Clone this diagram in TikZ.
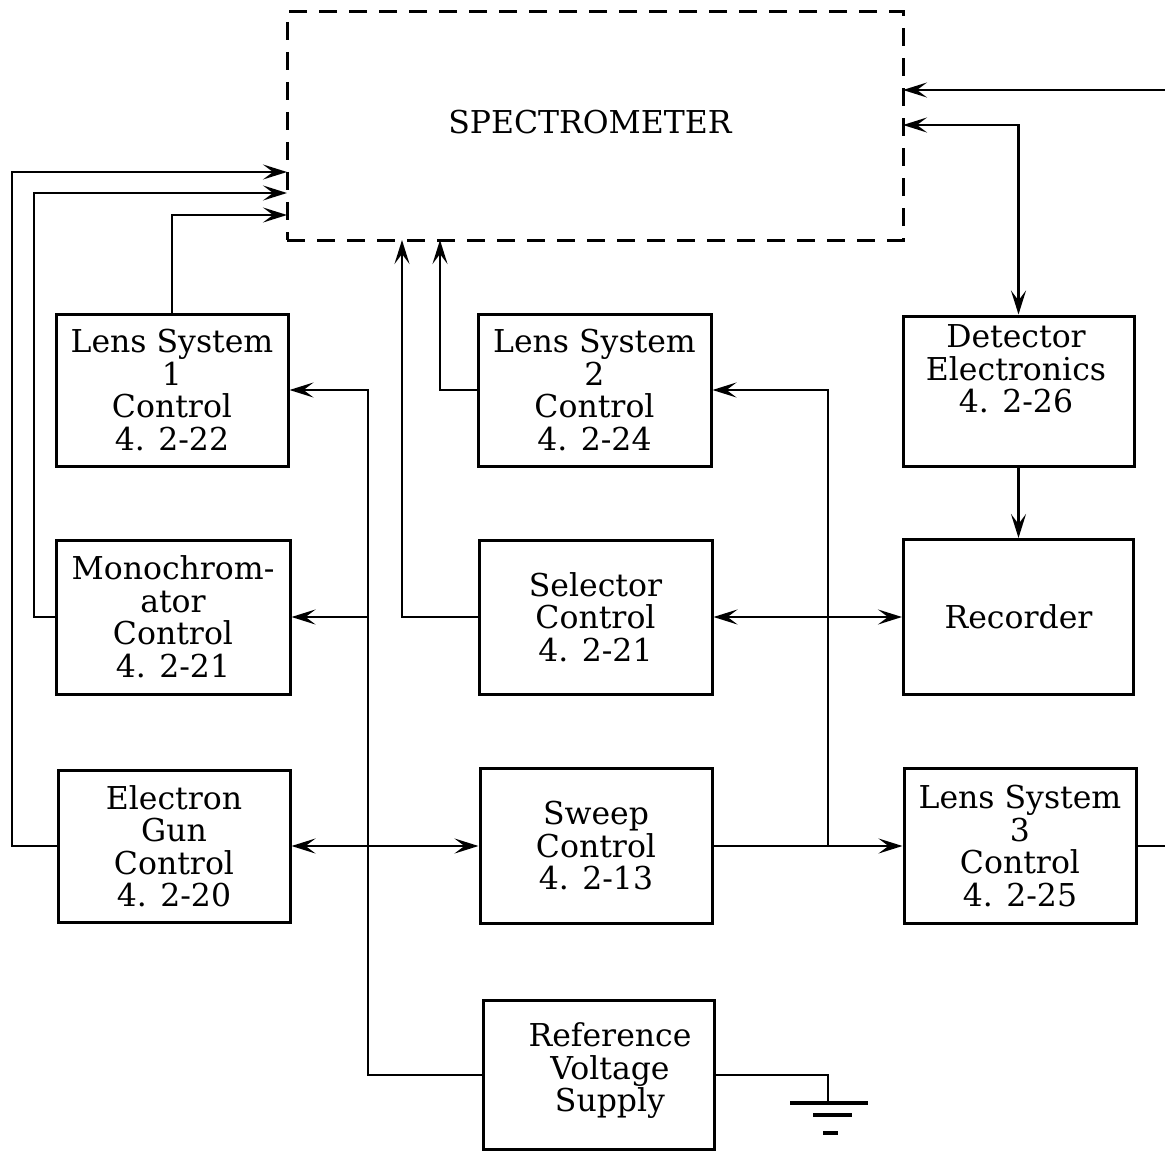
\documentclass[tikz,border=0pt]{standalone}
\usepackage{fontspec}
\setmainfont{DejaVu Serif}
\usetikzlibrary{arrows.meta}
\begin{document}
\begin{tikzpicture}[x=1pt,y=-1pt,
  every node/.style={font=\fontsize{31.5}{32.5}\selectfont},
  box/.style={draw,line width=3pt,inner sep=0pt,align=center},
  txt/.style={align=center,inner sep=0pt},
  conn/.style={line width=2.8pt},
  >={Stealth[length=24pt,width=15pt,inset=10pt]}]
\useasboundingbox (0,0) rectangle (1165,1153);
% spectrometer
\node[draw,dash pattern=on 18pt off 12pt,line width=3pt,minimum width=616pt,minimum height=228pt,inner sep=0pt] (spec) at (595,126) {};
\node[txt] (spect) at (590,122) {SPECTROMETER};
% boxes
\node[box,minimum width=232pt,minimum height=152pt] (ls1) at (172,390) {Lens System\\1\\Control\\4. 2-22};
\node[box,minimum width=233pt,minimum height=152pt] (ls2) at (594.5,390) {Lens System\\2\\Control\\4. 2-24};
\node[box,minimum width=231pt,minimum height=150pt] (det) at (1018.5,391) {};
\node[txt] (dett) at (1016,369) {Detector\\Electronics\\4. 2-26};
\node[box,minimum width=234pt,minimum height=154pt] (mono) at (173,617) {Monochrom-\\ator\\Control\\4. 2-21};
\node[box,minimum width=233pt,minimum height=154pt] (sel) at (595.5,617) {Selector\\Control\\4. 2-21};
\node[box,minimum width=230pt,minimum height=155pt] (rec) at (1018.5,617) {Recorder};
\node[box,minimum width=232pt,minimum height=152pt] (egun) at (174,846) {Electron\\Gun\\Control\\4. 2-20};
\node[box,minimum width=232pt,minimum height=155pt] (sweep) at (596,846) {Sweep\\Control\\4. 2-13};
\node[box,minimum width=232pt,minimum height=155pt] (ls3) at (1020,846) {Lens System\\3\\Control\\4. 2-25};
\node[box,minimum width=231pt,minimum height=149pt] (ref) at (598.5,1075) {};
\node[txt] (reft) at (610,1071) {Reference\\Voltage\\Supply};
% coordinates
\coordinate (specL1) at (287,172);
\coordinate (specL2) at (287,193);
\coordinate (specL3) at (287,215);
\coordinate (specB1) at (402,240);
\coordinate (specB2) at (440,240);
\coordinate (specR1) at (903,90);
\coordinate (specR2) at (903,125);
\coordinate (edgeR1) at (1165,90);
\coordinate (edgeR2) at (1165,846);
\coordinate (busA) at (368,390);
\coordinate (busB) at (828,390);
\coordinate (gnd) at (828,1103);
% connectors
\draw[conn,->] (egun.west) -| (12,172) -- (specL1);
\draw[conn,->] (mono.west) -| (34,193) -- (specL2);
\draw[conn,->] (ls1.north) |- (specL3);
\draw[conn,->] (sel.west) -| (specB1);
\draw[conn,->] (ls2.west) -| (specB2);
\draw[conn,->] (edgeR1) -- (specR1);
\draw[conn,<->] (specR2) -| (det.north);
\draw[conn,->] (det.south) -- (rec.north);
\draw[conn] (ls3.east) -- (edgeR2);
\draw[conn,->] (ref.west) -| (busA) -- (ls1.east);
\draw[conn,->] (368,617) -- (mono.east);
\draw[conn,<->] (egun.east) -- (sweep.west);
\draw[conn,->] (sweep.east) -- (ls3.west);
\draw[conn,->] (828,846) -- (busB) -- (ls2.east);
\draw[conn,<->] (sel.east) -- (rec.west);
\draw[conn] (ref.east) -| (gnd);
% ground
\draw[line width=3.5pt] (790,1103) -- (868,1103);
\draw[line width=3.5pt] (813,1115) -- (852,1115);
\draw[line width=3.5pt] (823,1133) -- (838,1133);
\end{tikzpicture}
\end{document}
